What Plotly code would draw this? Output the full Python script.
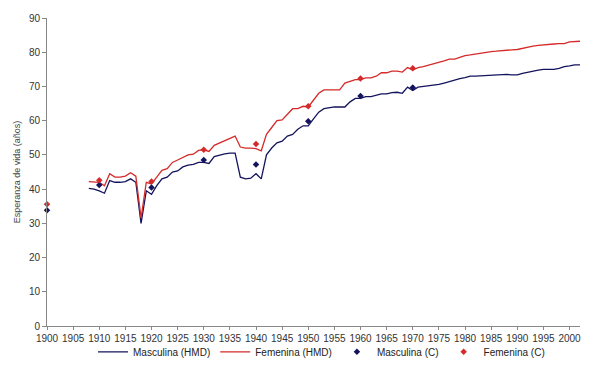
import plotly.graph_objects as go

years = list(range(1908, 2003))
fem_hmd = [42.2, 42.0, 42.0, 41.0, 44.5, 43.5, 43.5, 43.8, 44.8, 43.8,
           31.5, 42.0, 41.5, 43.5, 45.5, 46.0, 47.8, 48.5, 49.2, 50.0,
           50.2, 51.3, 51.5, 51.0, 52.8, 53.5, 54.2, 54.8, 55.5, 52.3,
           52.0, 52.0, 51.8, 51.2, 56.0, 58.0, 60.0, 60.2, 62.0, 63.5,
           63.5, 64.2, 64.0, 66.0, 68.0, 69.0, 69.0, 69.0, 69.0, 71.0,
           71.5, 72.0, 72.0, 72.5, 72.5, 73.0, 74.0, 74.0, 74.5, 74.5,
           74.2, 75.5, 74.8, 75.5, 75.8, 76.2, 76.5, 77.0, 77.5, 78.0,
           78.0, 78.5, 79.0, 79.2, 79.5, 79.6, 80.0, 80.2, 80.3, 80.5,
           80.6, 80.7, 80.8, 81.2, 81.5, 81.8, 82.0, 82.2, 82.3, 82.4,
           82.5, 82.5, 83.0, 83.2, 83.2]
masc_hmd = [40.2, 40.0, 39.5, 38.8, 42.5, 42.0, 42.0, 42.2, 43.0, 42.0,
            30.0, 39.5, 38.5, 41.0, 43.0, 43.5, 45.0, 45.3, 46.5, 47.0,
            47.2, 47.8, 47.8, 47.5, 49.5, 50.0, 50.3, 50.5, 50.5, 43.5,
            43.0, 43.2, 44.5, 43.0, 50.0, 52.0, 53.5, 54.0, 55.5, 56.0,
            57.5, 58.5, 58.5, 60.5, 62.5, 63.5, 63.8, 64.0, 64.0, 64.0,
            65.5, 66.5, 66.5, 67.0, 67.0, 67.3, 67.8, 67.8, 68.2, 68.3,
            68.0, 69.8, 68.8, 69.8, 70.0, 70.2, 70.3, 70.6, 71.0, 71.5,
            72.0, 72.3, 72.6, 73.0, 73.0, 73.1, 73.2, 73.3, 73.3, 73.5,
            73.5, 73.4, 73.4, 73.8, 74.2, 74.5, 74.8, 75.0, 75.0, 75.0,
            75.3, 75.8, 76.0, 76.3, 76.3]

census_years = [1900, 1910, 1920, 1930, 1940, 1950, 1960, 1970]
masc_c = [33.8, 41.2, 40.5, 48.5, 47.2, 59.8, 67.2, 69.7]
fem_c = [35.6, 42.6, 42.2, 51.5, 53.2, 64.2, 72.3, 75.3]

x_ticks = list(range(1900, 2001, 5))

navy = "#14145e"
red = "#d42a2a"

fig = go.Figure()
fig.add_trace(go.Scatter(x=years, y=masc_hmd, mode="lines", name="Masculina (HMD)",
                         line=dict(color=navy, width=1.3)))
fig.add_trace(go.Scatter(x=years, y=fem_hmd, mode="lines", name="Femenina (HMD)",
                         line=dict(color=red, width=1.3)))
fig.add_trace(go.Scatter(x=census_years, y=masc_c, mode="markers", name="Masculina (C)",
                         marker=dict(color=navy, symbol="diamond", size=5), cliponaxis=False))
fig.add_trace(go.Scatter(x=census_years, y=fem_c, mode="markers", name="Femenina (C)",
                         marker=dict(color=red, symbol="diamond", size=5), cliponaxis=False))

fig.update_layout(
    width=600, height=374,
    margin=dict(l=47, r=20, t=18, b=48, autoexpand=False),
    paper_bgcolor="white", plot_bgcolor="white",
    font=dict(family="Liberation Sans, Arial, sans-serif", size=10, color="#333"),
    showlegend=True,
    legend=dict(orientation="h", x=0.515, xanchor="center", y=-0.084, yanchor="middle",
                bgcolor="rgba(0,0,0,0)",
                font=dict(size=10, color="#222"), itemwidth=30, tracegroupgap=0),
    xaxis=dict(range=[1900, 2002], tickvals=x_ticks, ticks="outside", ticklen=3,
               showgrid=False, zeroline=False, showline=True, linecolor="#888",
               linewidth=1, tickcolor="#888", tickfont=dict(size=10, color="#333")),
    yaxis=dict(range=[0, 90], dtick=10, ticks="outside", ticklen=4,
               showgrid=False, zeroline=False, showline=True, linecolor="#888",
               linewidth=1, tickcolor="#888", tickfont=dict(size=10, color="#333"),
               title=dict(text="Esperanza de vida (años)", font=dict(size=9, color="#444"),
                          standoff=6)),
)

fig.write_html("out.html")
